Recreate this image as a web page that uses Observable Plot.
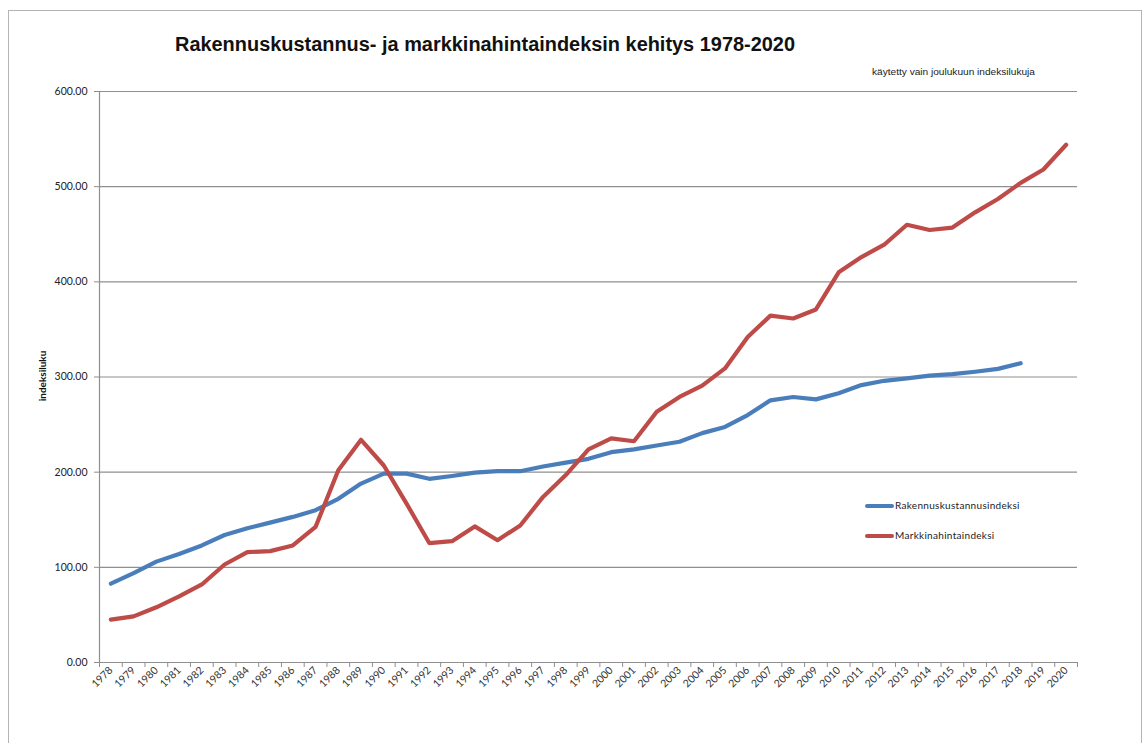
<!DOCTYPE html>
<html>
<head>
<meta charset="utf-8">
<script src="https://cdn.jsdelivr.net/npm/d3@7"></script>
<script src="https://cdn.jsdelivr.net/npm/@observablehq/plot@0.6"></script>
<style>
  html, body { margin: 0; padding: 0; background: #fff; }
  #wrap { position: relative; width: 1147px; height: 743px; overflow: hidden; background: #fff; }
  #frame { position: absolute; left: 8px; top: 10px; width: 1134px; height: 760px; border: 1.5px solid #b4b4b4; box-sizing: border-box; }
  #title { position: absolute; left: 175px; top: 33px; font: bold 19.5px "Liberation Sans", Arial, sans-serif; color: #111; white-space: nowrap; transform-origin: 0 0; }
  #subtitle { position: absolute; left: 872px; top: 66px; font: 9.5px "Liberation Sans", Arial, sans-serif; color: #222; white-space: nowrap; transform-origin: 0 0; }
  #ylabel { position: absolute; left: 42px; top: 376px; font: bold 10px Lato, "Open Sans", sans-serif; color: #111; white-space: nowrap; transform: translate(-50%, -50%) rotate(-90deg); }
  #plot { position: absolute; left: 0; top: 0; }
  .leg { position: absolute; font: 10px Lato, "Open Sans", sans-serif; color: #222; white-space: nowrap; letter-spacing: 0.3px; }
  .leg span.sw { display: inline-block; width: 29px; height: 4px; border-radius: 2px; vertical-align: middle; margin-right: 1px; }
</style>
</head>
<body>
<div id="wrap">
  <div id="frame"></div>
  <div id="title">Rakennuskustannus- ja markkinahintaindeksin kehitys 1978-2020</div>
  <div id="subtitle">käytetty vain joulukuun indeksilukuja</div>
  <div id="ylabel">indeksiluku</div>
  <div id="plot"></div>
</div>
<script>
// ---- data ----
const years = d3.range(1978, 2021);
const seriesNames = ["Rakennuskustannusindeksi", "Markkinahintaindeksi"];
const seriesColors = ["#4A7EBB", "#BE4B48"];
const rakennus = [82.8, 94, 106, 114, 123, 134, 141, 147, 153, 160,
  172, 188, 198.5, 198.5, 193, 196, 199.5, 201, 201, 206,
  210, 214, 221, 224, 228, 232, 241, 247.5, 260, 275.5,
  279, 276.5, 283, 291.5, 296, 298.5, 301.5, 303, 305.5, 308.5,
  314.5];
const markkina = [45, 48.5, 58, 69.5, 82, 103, 116, 117, 123, 142.5,
  202, 234, 207, 167, 125.5, 127.5, 143, 128.5, 144, 174,
  197, 224, 235.5, 232.5, 263.5, 279, 291, 309, 342, 364.5,
  361.5, 371, 410, 426, 439, 460, 454.5, 457, 473, 487,
  504, 518, 544];
const yTicks = [0, 100, 200, 300, 400, 500, 600];

const rows = [];
rakennus.forEach((v, i) => rows.push({year: years[i], value: v, series: seriesNames[0]}));
markkina.forEach((v, i) => rows.push({year: years[i], value: v, series: seriesNames[1]}));
const edges = years.map(y => y - 0.5).concat([years[years.length - 1] + 0.5]);

const chart = Plot.plot({
  width: 1147,
  height: 743,
  marginLeft: 99,
  marginRight: 70,
  marginTop: 91,
  marginBottom: 81,
  style: {fontFamily: "Lato, 'Open Sans', sans-serif", fontSize: "10.5px", color: "#222", background: "transparent"},
  x: {domain: [edges[0], edges[edges.length - 1]]},
  y: {domain: [0, 600]},
  color: {domain: seriesNames, range: seriesColors},
  marks: [
    Plot.gridY(yTicks.slice(1), {stroke: "#8f8f8f", strokeOpacity: 1, strokeWidth: 1.2}),
    Plot.ruleY([0], {stroke: "#8f8f8f", strokeWidth: 1.2}),
    Plot.ruleX([edges[0]], {stroke: "#8f8f8f", strokeWidth: 1.2}),
    Plot.axisY({ticks: yTicks, tickFormat: d => d.toFixed(2), tickSize: 5, tickPadding: 7, label: null, stroke: "#8f8f8f", fill: "#222"}),
    Plot.axisX({ticks: edges, tickSize: 5, tickFormat: () => "", label: null, stroke: "#8f8f8f"}),
    Plot.axisX({ticks: years, tickSize: 0, tickPadding: 6, tickRotate: -45, tickFormat: d => String(d), label: null, fill: "#333"}),
    Plot.line(rows, {x: "year", y: "value", z: "series", stroke: "series", strokeWidth: 4.2, strokeLinejoin: "round", strokeLinecap: "round"})
  ]
});
document.getElementById("plot").appendChild(chart);

// legend
const legPos = [{left: 865, top: 499}, {left: 865, top: 529}];
seriesNames.forEach((name, i) => {
  const d = document.createElement("div");
  d.className = "leg";
  d.style.left = legPos[i].left + "px";
  d.style.top = legPos[i].top + "px";
  d.innerHTML = `<span class="sw" style="background:${seriesColors[i]}"></span>${name}`;
  document.getElementById("wrap").appendChild(d);
});

// fit title and subtitle widths to the reference spans
function fit(id, target) {
  const el = document.getElementById(id);
  const w = el.getBoundingClientRect().width;
  el.style.transform = `scaleX(${target / w})`;
}
fit("title", 620);
fit("subtitle", 163);
</script>
</body>
</html>
